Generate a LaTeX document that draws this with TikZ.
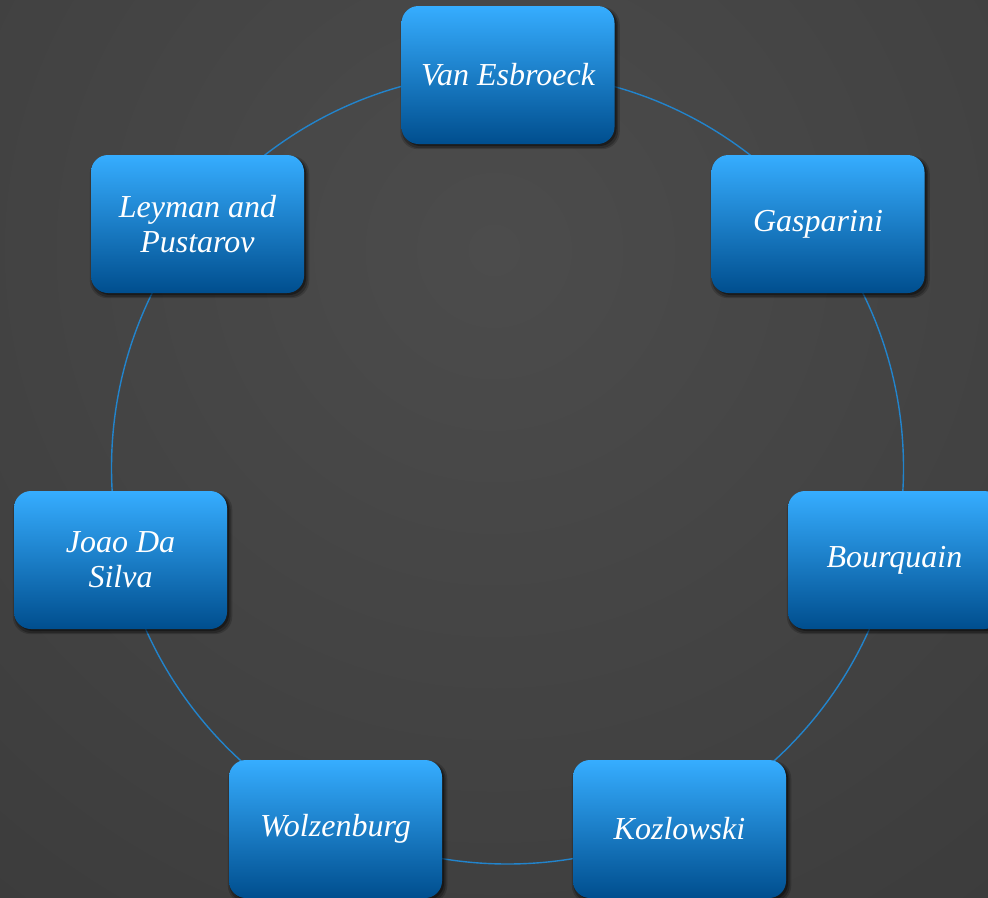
\documentclass[tikz,border=0pt]{standalone}
\usepackage{fontspec}
\setmainfont{Liberation Serif}
\usetikzlibrary{shadows}
\definecolor{bgin}{HTML}{4C4C4C}
\definecolor{bgout}{HTML}{2B2B2B}
\definecolor{boxtop}{HTML}{36ADFF}
\definecolor{boxmid}{HTML}{0A86E4}
\definecolor{boxbot}{HTML}{004E8E}
\definecolor{ringcol}{HTML}{2284CC}
\tikzset{
  person/.style={
    rounded corners=17pt, minimum width=213pt, minimum height=138pt,
    inner sep=0pt, align=center, text=white,
    font=\fontsize{32}{35}\selectfont\itshape,
    top color=boxtop, middle color=boxmid, bottom color=boxbot,
    drop shadow={shadow xshift=2pt, shadow yshift=-3pt, shadow scale=1.03, opacity=0.18, fill=black},
    drop shadow={shadow xshift=2pt, shadow yshift=-3pt, shadow scale=1.015, opacity=0.25, fill=black},
    drop shadow={shadow xshift=2pt, shadow yshift=-2pt, opacity=0.35, fill=black}
  },
  ring/.style={draw=ringcol, line width=1.4pt}
}
\begin{document}
\begin{tikzpicture}[x=1pt,y=-1pt]
\useasboundingbox (0,0) rectangle (988,897);
\begin{scope}
\clip (0,0) rectangle (988,897);
\shade[inner color=bgin, outer color=bgout] (494,250) circle (1700pt);
\end{scope}
\coordinate (c) at (507.5,468);
\draw[ring] (c) circle (396pt);
\node[person] (van) at (508,75) {Van Esbroeck};
\node[person] (gas) at (818,224) {Gasparini};
\node[person] (bou) at (894.5,560) {Bourquain};
\node[person] (koz) at (679.5,829) {Kozlowski};
\node[person] (wol) at (335.5,829) {Wolzenburg};
\node[person] (joa) at (120.5,560) {Joao Da\\Silva};
\node[person] (ley) at (197.5,224) {Leyman and\\Pustarov};
\end{tikzpicture}
\end{document}
